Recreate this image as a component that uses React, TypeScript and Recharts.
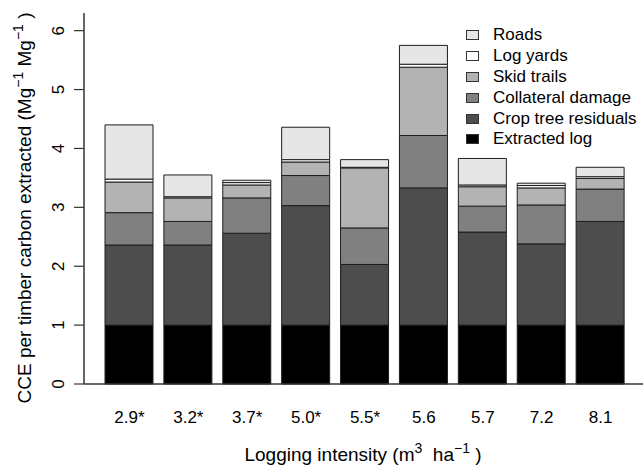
import React from "react";
import { BarChart, Bar, XAxis, YAxis, Legend } from "recharts";

// Logging intensity (m3 ha-1); * = sites flagged in the source figure
const intensities = ["2.9*", "3.2*", "3.7*", "5.0*", "5.5*", "5.6", "5.7", "7.2", "8.1"];

// CCE per timber carbon extracted (Mg-1 Mg-1), stacked bottom to top
const extractedLog = [1, 1, 1, 1, 1, 1, 1, 1, 1];
const cropTreeResiduals = [1.36, 1.36, 1.56, 2.03, 1.03, 2.33, 1.58, 1.38, 1.76];
const collateralDamage = [0.55, 0.4, 0.6, 0.51, 0.62, 0.89, 0.44, 0.66, 0.55];
const skidTrails = [0.52, 0.4, 0.22, 0.23, 1.02, 1.16, 0.33, 0.29, 0.18];
const logYards = [0.05, 0.02, 0.04, 0.04, 0.01, 0.05, 0.03, 0.04, 0.03];
const roads = [0.92, 0.37, 0.04, 0.55, 0.13, 0.32, 0.45, 0.04, 0.16];

const yTicks = [0, 1, 2, 3, 4, 5, 6];

const SERIES = [
  { key: "extracted", name: "Extracted log", color: "#000000", values: extractedLog },
  { key: "crop", name: "Crop tree residuals", color: "#4d4d4d", values: cropTreeResiduals },
  { key: "collateral", name: "Collateral damage", color: "#808080", values: collateralDamage },
  { key: "skid", name: "Skid trails", color: "#b3b3b3", values: skidTrails },
  { key: "yards", name: "Log yards", color: "#ffffff", values: logYards },
  { key: "roads", name: "Roads", color: "#e6e6e6", values: roads },
];

const data = intensities.map((name, i) => ({
  name,
  ...Object.fromEntries(SERIES.map((s) => [s.key, s.values[i]])),
}));

const FONT = "'Liberation Sans', Arial, Helvetica, sans-serif";
const BOX = "#333333";

// R draws y tick labels parallel to the axis
const renderYTick = (props: any) => {
  const { y, payload } = props;
  return (
    <g transform={`translate(64, ${y}) rotate(-90)`}>
      <text x={0} y={0} textAnchor="middle" fontSize={17} fontFamily={FONT} fill="#000">
        {payload.value}
      </text>
    </g>
  );
};

const renderXTick = (props: any) => {
  const { x, payload } = props;
  return (
    <text x={x} y={423} textAnchor="middle" fontSize={17} fontFamily={FONT} fill="#000">
      {payload.value}
    </text>
  );
};

const XTitle = () => (
  <text x={363} y={461} textAnchor="middle" fontSize={19} fontFamily={FONT} fill="#000">
    Logging intensity (m
    <tspan dy={-8} fontSize={14}>3</tspan>
    <tspan dy={8}>{"\u00a0\u00a0ha"}</tspan>
    <tspan dy={-8} fontSize={14}>{"\u22121"}</tspan>
    <tspan dy={8}>{"\u00a0)"}</tspan>
  </text>
);

const YTitle = () => (
  <g transform="translate(31, 208) rotate(-90)">
    <text x={0} y={0} textAnchor="middle" fontSize={19} fontFamily={FONT} fill="#000">
      CCE per timber carbon extracted (Mg
      <tspan dy={-8} fontSize={14}>{"\u22121"}</tspan>
      <tspan dy={8}>{"\u00a0Mg"}</tspan>
      <tspan dy={-8} fontSize={14}>{"\u22121"}</tspan>
      <tspan dy={8}>{"\u00a0)"}</tspan>
    </text>
  </g>
);

const LegendList = () => (
  <div style={{ fontFamily: FONT, fontSize: 17, color: "#000" }}>
    {[...SERIES].reverse().map((s) => (
      <div key={s.key} style={{ display: "flex", alignItems: "center", height: 20.8 }}>
        <span
          style={{
            width: 13,
            height: 10,
            boxSizing: "border-box",
            border: `1px solid ${BOX}`,
            background: s.color,
            marginRight: 14,
            flex: "none",
          }}
        />
        <span style={{ whiteSpace: "nowrap" }}>{s.name}</span>
      </div>
    ))}
  </div>
);

export default function App() {
  return (
    <div style={{ position: "absolute", left: 0, top: 0, background: "#fff" }}>
      <BarChart
        width={643}
        height={466}
        data={data}
        margin={{ top: 13, right: 0, bottom: 0, left: 0 }}
      >
        <XAxis
          dataKey="name"
          height={82}
          padding={{ left: 16, right: 13 }}
          tickLine={false}
          axisLine={{ stroke: BOX, strokeWidth: 1.5 }}
          tick={renderXTick}
          interval={0}
          label={{ content: () => <XTitle /> }}
        />
        <XAxis
          xAxisId="top"
          orientation="top"
          dataKey="name"
          height={0}
          tick={false}
          tickLine={false}
          axisLine={{ stroke: BOX, strokeWidth: 1.5 }}
        />
        <YAxis
          width={84}
          domain={[0, 6.3]}
          ticks={yTicks}
          tickSize={10}
          tickLine={{ stroke: BOX, strokeWidth: 1.2 }}
          axisLine={{ stroke: BOX, strokeWidth: 1.5 }}
          tick={renderYTick}
          label={{ content: () => <YTitle /> }}
        />
        <Legend
          layout="horizontal"
          align="center"
          verticalAlign="middle"
          wrapperStyle={{ top: 25, left: 466, width: 175 }}
          content={() => <LegendList />}
        />
        {SERIES.map((s) => (
          <Bar
            key={s.key}
            dataKey={s.key}
            name={s.name}
            stackId="cce"
            fill={s.color}
            stroke="#1e1e1e"
            strokeWidth={1}
            barSize={48}
            isAnimationActive={false}
          />
        ))}
      </BarChart>
    </div>
  );
}
